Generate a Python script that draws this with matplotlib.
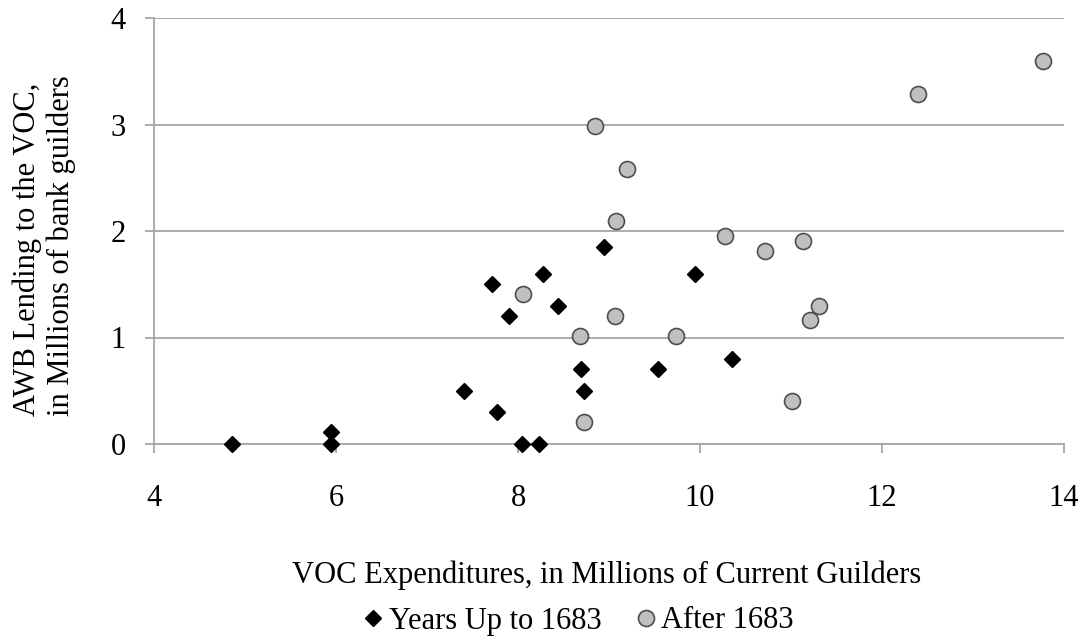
import matplotlib
matplotlib.use("Agg")
import matplotlib.pyplot as plt
from matplotlib.lines import Line2D

plt.rcParams['font.family'] = ['Liberation Serif', 'DejaVu Serif']

# Data
early_x = [4.86, 5.95, 5.95, 7.41, 7.71, 7.77, 7.90, 8.04, 8.23, 8.28, 8.44, 8.69, 8.73, 8.95, 9.54, 9.95, 10.35]
early_y = [0.00, 0.11, 0.00, 0.50, 1.50, 0.30, 1.20, 0.00, 0.00, 1.60, 1.30, 0.70, 0.50, 1.85, 0.70, 1.60, 0.80]
late_x = [8.85, 9.20, 9.08, 10.27, 10.71, 11.13, 8.06, 9.07, 8.68, 9.74, 8.73, 11.01, 11.31, 11.21, 12.40, 13.77]
late_y = [2.99, 2.58, 2.09, 1.95, 1.81, 1.91, 1.41, 1.20, 1.01, 1.01, 0.21, 0.40, 1.30, 1.16, 3.29, 3.60]
x_ticks = [4, 6, 8, 10, 12, 14]
y_ticks = [0, 1, 2, 3, 4]
series_labels = ["Years Up to 1683", "After 1683"]

grid_col = '#a6a6a6'
FS = 22

fig = plt.figure(figsize=(10.86, 6.41), dpi=100)
ax = fig.add_axes([154/1086, 1-444/641, (1064-154)/1086, (444-18)/641])

ax.set_xlim(4, 14)
ax.set_ylim(0, 4)
ax.set_xticks(x_ticks)
ax.set_yticks(y_ticks)
ax.yaxis.grid(True, color=grid_col, linewidth=1.3)
ax.set_axisbelow(True)
for s in ['top', 'right']:
    ax.spines[s].set_visible(False)
for s in ['left', 'bottom']:
    ax.spines[s].set_color(grid_col)
    ax.spines[s].set_linewidth(1.3)
ax.tick_params(axis='both', colors=grid_col, labelcolor='black', labelsize=FS,
               length=6.5, width=1.3, direction='out')
ax.tick_params(axis='x', pad=22)
ax.tick_params(axis='y', pad=14)

ax.plot(early_x, early_y, linestyle='none', marker='D', markersize=8.2,
        color='black', clip_on=False, zorder=3)
ax.plot(late_x, late_y, linestyle='none', marker='o', markersize=11.5,
        markerfacecolor='#c0c0c0', markeredgecolor='#4d4d4d', markeredgewidth=1.2,
        clip_on=False, zorder=3)

fig.text(44/1086, 1-416/641, "AWB Lending to the VOC,\nin Millions of bank guilders",
         rotation=90, ha='center', va='bottom', multialignment='left',
         fontsize=FS, linespacing=1.2)

fig.text(607/1086, 1-583/641, "VOC Expenditures, in Millions of Current Guilders",
         ha='center', va='baseline', fontsize=FS)

handles = [Line2D([], [], linestyle='none', marker='D', markersize=8.2, color='black'),
           Line2D([], [], linestyle='none', marker='o', markersize=11.5,
                  markerfacecolor='#c0c0c0', markeredgecolor='#4d4d4d', markeredgewidth=1.2)]
fig.legend(handles, series_labels, loc='center', bbox_to_anchor=(578/1086, 1-621/641),
           ncol=2, frameon=False, fontsize=FS, handlelength=0.7, handletextpad=0.15,
           columnspacing=1.1, borderaxespad=0, borderpad=0)

fig.savefig("out.png", dpi=100)
